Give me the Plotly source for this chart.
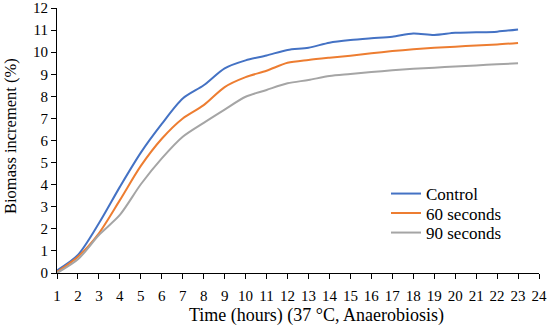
import plotly.graph_objects as go

hours = list(range(1, 24))
control = [0.12, 0.82, 2.25, 3.9, 5.45, 6.75, 7.9, 8.5, 9.27, 9.63, 9.85, 10.1, 10.2, 10.43, 10.55, 10.63, 10.7, 10.85, 10.78, 10.88, 10.9, 10.93, 11.03]
sec60 = [0.05, 0.74, 1.8, 3.3, 4.85, 6.08, 7.0, 7.6, 8.42, 8.87, 9.16, 9.52, 9.65, 9.75, 9.84, 9.95, 10.05, 10.13, 10.2, 10.25, 10.3, 10.35, 10.42]
sec90 = [0.0, 0.62, 1.72, 2.63, 4.02, 5.19, 6.17, 6.8, 7.4, 7.98, 8.29, 8.59, 8.74, 8.92, 9.01, 9.1, 9.18, 9.25, 9.3, 9.35, 9.4, 9.45, 9.5]

names = ["Control", "60 seconds", "90 seconds"]
colors = ["#4472C4", "#ED7D31", "#A5A5A5"]
x_title = "Time (hours) (37 °C, Anaerobiosis)"
y_title = "Biomass increment (%)"

FAM = "Liberation Serif, serif"
W, H = 550, 327
L, R, T, B = 57, 11, 8, 54
PW, PH = W - L - R, H - T - B

def px_x(px):
    return (px - L) / PW

def px_y(py):
    return ((H - B) - py) / PH

legend_ids = ["legend", "legend2", "legend3"]
legend_rows = [194, 213.5, 233]

fig = go.Figure()
for name, vals, col, lid in zip(names, [control, sec60, sec90], colors, legend_ids):
    fig.add_trace(go.Scatter(x=hours, y=vals, name=name, mode="lines", legend=lid,
                             line=dict(color=col, width=2, shape="spline", smoothing=0.8)))

legend_kw = {}
for lid, row in zip(legend_ids, legend_rows):
    legend_kw[lid] = dict(x=px_x(386), y=px_y(row), xanchor="left", yanchor="middle",
                          bgcolor="rgba(0,0,0,0)", itemwidth=30,
                          font=dict(family=FAM, size=17, color="black"))

fig.update_layout(
    width=W, height=H,
    margin=dict(l=L, r=R, t=T, b=B, autoexpand=False),
    plot_bgcolor="white", paper_bgcolor="white",
    font=dict(family=FAM, size=15, color="black"),
    showlegend=True,
    xaxis=dict(range=[1, 24], tickmode="linear", tick0=1, dtick=1,
               showline=True, linecolor="black", linewidth=1,
               ticks="outside", ticklen=5, tickcolor="black",
               showgrid=False, zeroline=False, automargin=False,
               ticklabelstandoff=4),
    yaxis=dict(range=[0, 12], tickmode="linear", tick0=0, dtick=1,
               showline=True, linecolor="black", linewidth=1,
               ticks="outside", ticklen=5, tickcolor="black",
               showgrid=False, zeroline=False, automargin=False),
    annotations=[
        dict(text=x_title, xref="paper", yref="paper",
             x=px_x(316.5), y=px_y(315),
             xanchor="center", yanchor="middle", showarrow=False,
             font=dict(family=FAM, size=18, color="black")),
        dict(text=y_title, xref="paper", yref="paper", textangle=-90,
             x=px_x(10), y=px_y(136),
             xanchor="center", yanchor="middle", showarrow=False,
             font=dict(family=FAM, size=16.5, color="black")),
    ],
    **legend_kw,
)

fig.write_html("out.html", config={"displayModeBar": False},
               post_script="document.body.style.margin='0';document.body.style.padding='0';")
